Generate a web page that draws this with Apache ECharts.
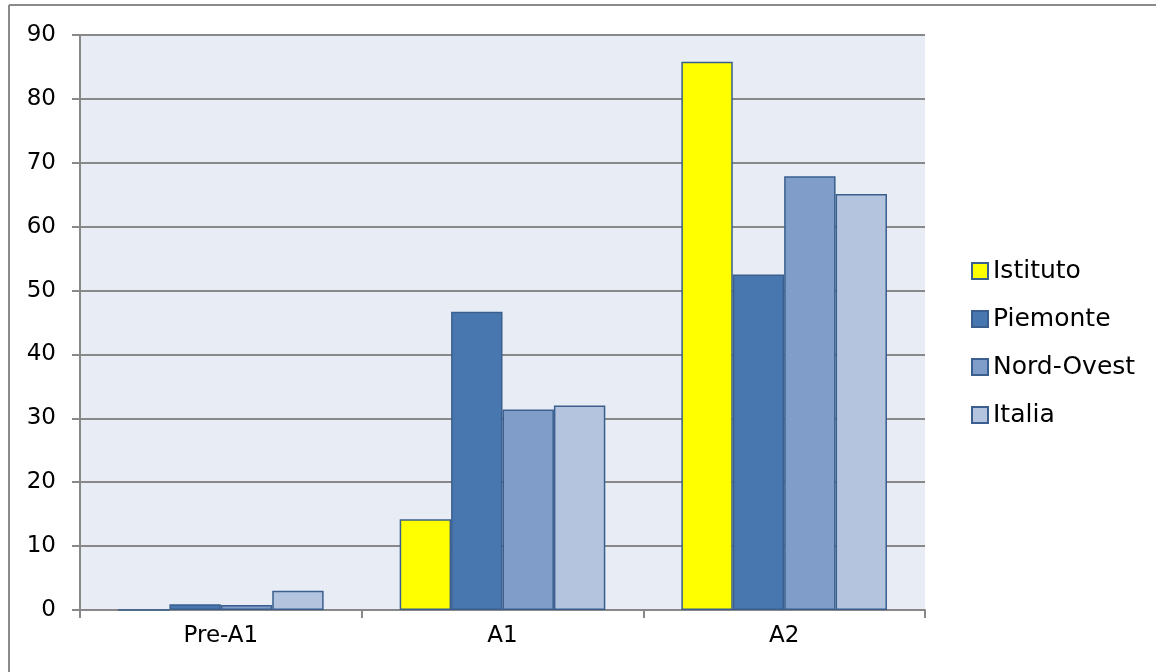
<!DOCTYPE html>
<html>
<head>
<meta charset="utf-8">
<script src="https://cdn.jsdelivr.net/npm/echarts@6/dist/echarts.min.js"></script>
<style>
html,body{margin:0;padding:0;background:#fff;}
#chart{width:1156px;height:672px;}
</style>
</head>
<body>
<div id="chart"></div>
<script>
var categories = ['Pre-A1', 'A1', 'A2'];
var seriesNames = ['Istituto', 'Piemonte', 'Nord-Ovest', 'Italia'];
var istituto = [0, 14.2, 85.8];
var piemonte = [0.9, 46.7, 52.5];
var nordOvest = [0.8, 31.4, 67.9];
var italia = [3.0, 32.0, 65.1];
var colors = ['#FFFF00', '#4877B0', '#7F9DC8', '#B4C4DF'];

var FONT = '"DejaVu Sans", sans-serif';
var chart = echarts.init(document.getElementById('chart'));
var dataSets = [istituto, piemonte, nordOvest, italia];
var series = seriesNames.map(function (n, i) {
  return {
    name: n,
    type: 'bar',
    data: dataSets[i],
    barGap: '0%',
    barCategoryGap: '27%',
    itemStyle: { color: colors[i], borderColor: '#3A5F8E', borderWidth: 1.5 }
  };
});
chart.setOption({
  animation: false,
  backgroundColor: '#ffffff',
  grid: { left: 80, top: 35, right: 231, bottom: 62, show: true, backgroundColor: '#E8ECF4', borderWidth: 0 },
  legend: {
    orient: 'vertical',
    left: 966,
    top: 253,
    itemWidth: 16,
    itemHeight: 16,
    itemGap: 22,
    icon: 'rect',
    textStyle: { fontFamily: FONT, fontSize: 25, lineHeight: 26, color: '#000' },
    data: seriesNames
  },
  xAxis: {
    type: 'category',
    data: categories,
    axisLine: { lineStyle: { color: '#888', width: 2 } },
    axisTick: { show: true, length: 8, inside: false, lineStyle: { color: '#888', width: 2 } },
    axisLabel: { fontFamily: FONT, fontSize: 23, color: '#000', margin: 15 },
    splitLine: { show: false }
  },
  yAxis: {
    type: 'value',
    min: 0,
    max: 90,
    interval: 10,
    axisLine: { show: true, lineStyle: { color: '#888', width: 2 } },
    axisTick: { show: true, length: 8, lineStyle: { color: '#888', width: 2 } },
    axisLabel: { fontFamily: FONT, fontSize: 23, color: '#000', margin: 24 },
    splitLine: { lineStyle: { color: '#888', width: 2 } }
  },
  series: series,
  graphic: [
    { type: 'line', shape: { x1: 9, y1: 5, x2: 1156, y2: 5 }, style: { stroke: '#8a8a8a', lineWidth: 2 } },
    { type: 'line', shape: { x1: 9, y1: 5, x2: 9, y2: 672 }, style: { stroke: '#8a8a8a', lineWidth: 2 } }
  ]
});
</script>
</body>
</html>
